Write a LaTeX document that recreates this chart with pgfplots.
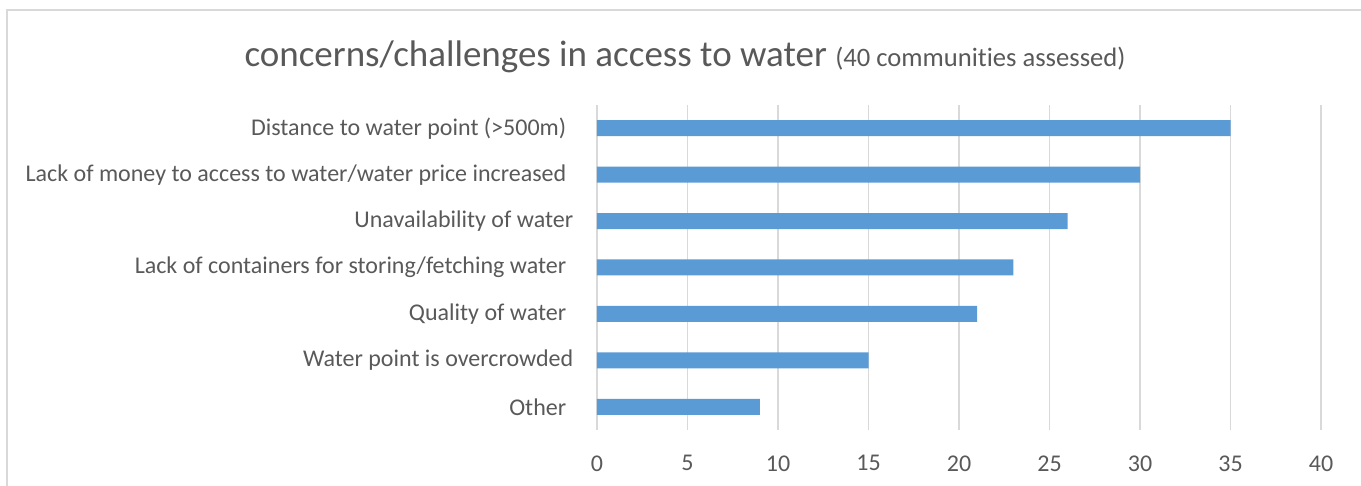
\documentclass[border=0pt]{standalone}
\usepackage{pgfplots}
\pgfplotsset{compat=1.18}
\usepackage{fontspec}
\setmainfont{Carlito}[Ligatures=CommonOff]
\definecolor{barblue}{HTML}{5B9BD5}
\definecolor{gridgray}{HTML}{D9D9D9}
\definecolor{txtgray}{HTML}{595959}
\newcommand{\tsp}{\rule{7pt}{0pt}}

\begin{document}
\begin{tikzpicture}
\useasboundingbox (0,0) rectangle (1361pt,486pt);
% chart frame (cut by the page on right and bottom)
\draw[gridgray, line width=1.5pt] (7pt,-5pt) -- (7pt,476pt) -- (1370pt,476pt);
\node[txtgray, anchor=base, inner sep=0pt] at (685pt,419pt)
  {\fontsize{37}{40}\selectfont concerns/challenges in access to water
   {\fontsize{26.6}{30}\selectfont (40 communities assessed)}};
\begin{axis}[
  at={(597pt,56pt)}, anchor=south west,
  scale only axis, width=724pt, height=325pt,
  xbar, bar width=16pt,
  xmin=0, xmax=40, ymin=-0.5, ymax=6.5,
  xtick={0,5,...,40},
  ytick={0,...,6},
  yticklabels={{Other\tsp}, {Water point is overcrowded}, {Quality of water\tsp},
    {Lack of containers for storing/fetching water\tsp}, {Unavailability of water},
    {Lack of money to access to water/water price increased\tsp},
    {Distance to water point (>500m)\tsp}},
  axis line style={draw=none},
  major tick style={draw=none},
  xmajorgrids, grid style={gridgray, line width=1.3pt},
  ticklabel style={font=\fontsize{24}{28}\selectfont, text=txtgray},
  xticklabel style={yshift=-22pt},
  yticklabel style={xshift=-16pt},
  /pgf/number format/assume math mode=true,
]
\addplot[fill=barblue, draw=none] coordinates {
  (9,0) (15,1) (21,2) (23,3) (26,4) (30,5) (35,6)
};
\end{axis}
\end{tikzpicture}
\end{document}
